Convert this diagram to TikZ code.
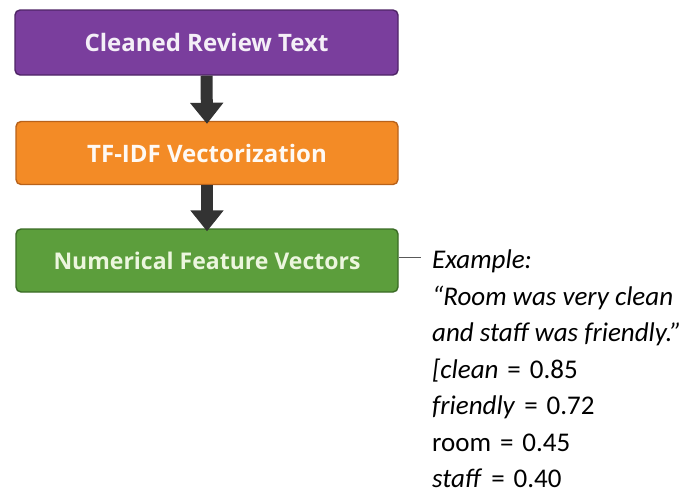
\documentclass[tikz,border=0pt]{standalone}
\usepackage{fontspec}
\setmainfont{Carlito}
\newfontfamily\boxfont{Open Sans}
\usetikzlibrary{arrows.meta}
\definecolor{purpfill}{HTML}{7A3E9D}
\definecolor{purpline}{HTML}{4E2466}
\definecolor{orfill}{HTML}{F38B26}
\definecolor{orline}{HTML}{B8621A}
\definecolor{grfill}{HTML}{5C9E3C}
\definecolor{grline}{HTML}{3A6B25}
\definecolor{arrowc}{HTML}{333333}
\newcommand{\eqgap}{\hspace{0.33em}}
\tikzset{
  stepbox/.style={rounded corners=5pt, line width=1.4pt, minimum width=382pt, minimum height=63pt,
    inner sep=0pt, font=\boxfont\bfseries\fontsize{24}{28}\selectfont},
  flowarrow/.style={draw=arrowc, line width=12pt, -{Triangle[width=32pt,length=21pt]}},
  exline/.style={anchor=base west, font=\fontsize{27}{30}\selectfont, inner sep=0pt}
}
\begin{document}
\begin{tikzpicture}[x=1pt,y=-1pt]
\useasboundingbox (0,0) rectangle (683,493);
\node[stepbox, fill=purpfill, draw=purpline, text=white!92!purpfill, minimum width=383pt, minimum height=65pt] (clean) at (206.5,42.5) {Cleaned Review Text};
\node[stepbox, fill=orfill, draw=orline, text=white!95!orfill] (tfidf) at (207,153) {TF-IDF Vectorization};
\node[stepbox, fill=grfill, draw=grline, text={rgb,255:red,236;green,246;blue,222}] (feat) at (207,260.5) {\fontsize{23}{27}\selectfont Numerical Feature Vectors};
\draw[flowarrow] (clean.south) -- ([yshift=-3pt]tfidf.north);
\draw[flowarrow] (tfidf.south) -- ([yshift=-3pt]feat.north);
\coordinate (lend) at (421,257);
\draw[line width=1pt, draw=black!65] (feat.east |- lend) -- (lend);
\node[exline] (ex) at (432,268) {\itshape Example:};
\node[exline] (q1) at (432,305) {\itshape “Room was very clean};
\node[exline] (q2) at (432,341) {\itshape and staff was friendly.”};
\node[exline] (v1) at (432,378) {\textit{[clean}\eqgap=\eqgap0.85};
\node[exline] (v2) at (432,414) {\textit{friendly}\eqgap=\eqgap0.72};
\node[exline] (v3) at (432,451) {room\eqgap=\eqgap0.45};
\node[exline] (v4) at (432,487) {\textit{staff}\eqgap=\eqgap0.40};
\end{tikzpicture}
\end{document}
